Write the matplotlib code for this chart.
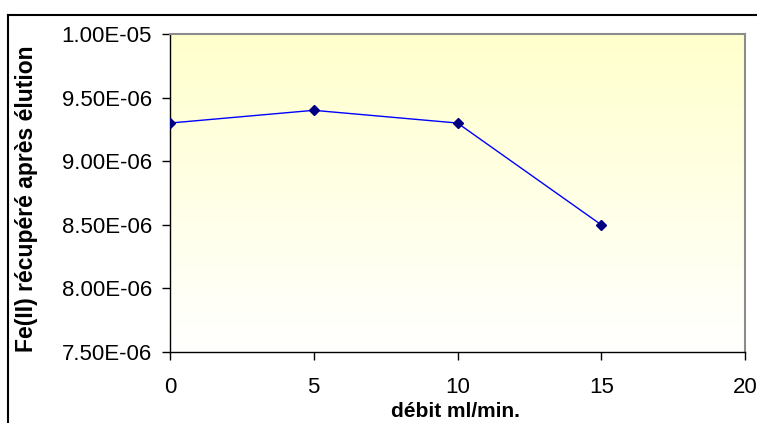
import matplotlib
matplotlib.use("Agg")
import matplotlib.pyplot as plt
import numpy as np
from matplotlib.colors import LinearSegmentedColormap
from matplotlib.lines import Line2D

plt.rcParams['font.family'] = ['Liberation Sans', 'DejaVu Sans']

# data
debit = [0, 5, 10, 15]
fe_recup = [9.3e-6, 9.4e-6, 9.3e-6, 8.5e-6]
y_ticks = [7.5e-6, 8.0e-6, 8.5e-6, 9.0e-6, 9.5e-6, 1.0e-5]
y_ticklabels = ["7.50E-06", "8.00E-06", "8.50E-06", "9.00E-06", "9.50E-06", "1.00E-05"]
x_ticks = [0, 5, 10, 15, 20]

W, H = 757, 423
fig = plt.figure(figsize=(W / 100, H / 100), dpi=100)
fig.patch.set_facecolor("white")

# plot area in pixels: left 170, right 745, top 34, bottom 352
ax = fig.add_axes([170 / W, 1 - 352 / H, (745 - 170) / W, (352 - 34) / H])

# yellow-to-white gradient background
cmap = LinearSegmentedColormap.from_list("grad", ["#FFFFFF", "#FFFFCC"])
grad = np.linspace(0, 1, 256).reshape(-1, 1)
ax.imshow(grad, aspect="auto", cmap=cmap, origin="lower",
          extent=[0, 1, 0, 1], transform=ax.transAxes, zorder=0)

ax.plot(debit, fe_recup, color="#0000FF", linewidth=1, zorder=3)
ax.plot(debit, fe_recup, linestyle="none", marker="D", markersize=5,
        color="#000080", zorder=4)

ax.set_xlim(0, 20)
ax.set_ylim(7.5e-6, 1.0e-5)
ax.set_xticks(x_ticks)
ax.set_yticks(y_ticks)
ax.set_yticklabels(y_ticklabels)
ax.tick_params(direction="out", length=6, width=1, labelsize=16,
               color="#000000")
ax.tick_params(axis="y", pad=7)
ax.tick_params(axis="x", pad=12)

for side in ["left", "bottom"]:
    ax.spines[side].set_color("#000000")
    ax.spines[side].set_linewidth(1)
for side in ["top", "right"]:
    ax.spines[side].set_color("#8C8C8C")
    ax.spines[side].set_linewidth(1.5)

fig.text(27 / W, 1 - 199 / H, "Fe(II) récupéré après élution", rotation=90,
         ha="center", va="center", fontsize=16.5, fontweight="bold")
fig.text(455 / W, 1 - 411 / H, "débit ml/min.", ha="center", va="center",
         fontsize=15, fontweight="bold")

# chart area border (cropped)
fig.add_artist(Line2D([8 / W, 1], [1 - 15 / H, 1 - 15 / H], color="black",
                      linewidth=1.5, transform=fig.transFigure))
fig.add_artist(Line2D([8 / W, 8 / W], [0, 1 - 15 / H], color="black",
                      linewidth=1.5, transform=fig.transFigure))

fig.savefig("out.png", dpi=100)
